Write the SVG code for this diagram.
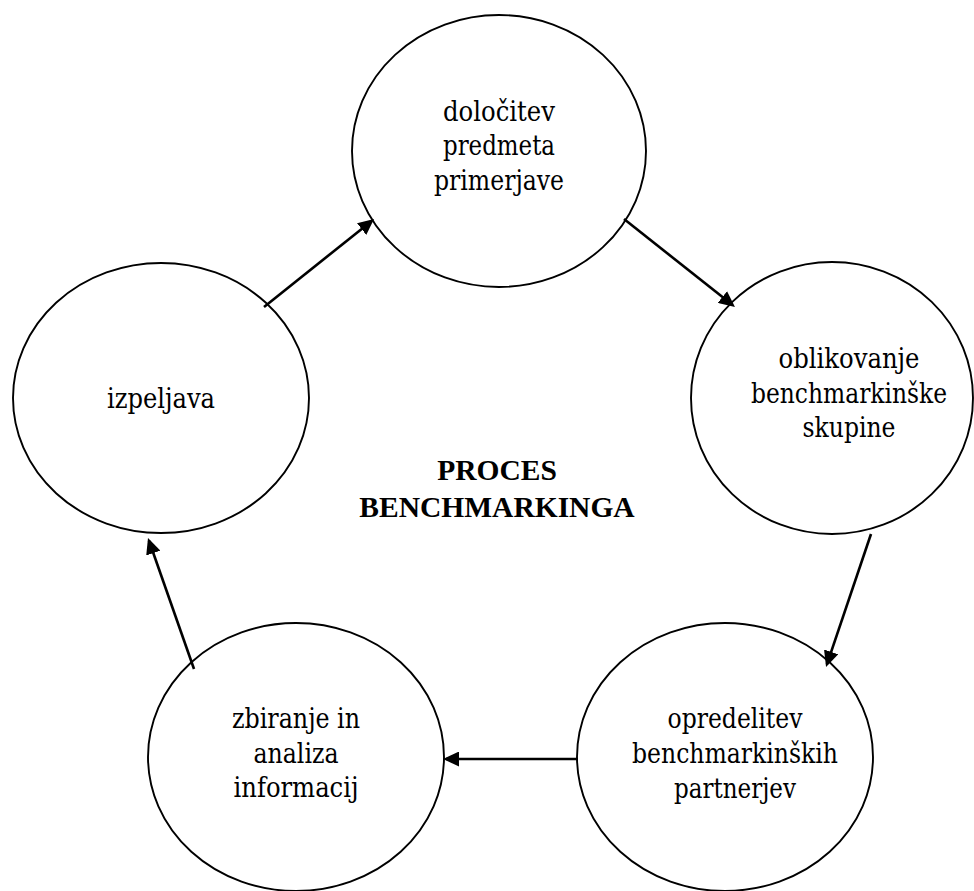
<svg xmlns="http://www.w3.org/2000/svg" width="974" height="891" viewBox="0 0 974 891">
  <style>
    .node { fill: #ffffff; stroke: #000000; stroke-width: 1.9; }
    .label { font-family: "DejaVu Serif", "Liberation Serif", serif; font-stretch: condensed; font-size: 27px; fill: #000000; text-anchor: middle; }
    .title { font-family: "Liberation Serif", "Times New Roman", serif; font-size: 29.5px; font-weight: bold; fill: #000000; text-anchor: middle; }
    .edge { stroke: #000000; stroke-width: 2.6; fill: none; marker-end: url(#arrow); }
  </style>
  <defs>
    <!-- filled triangular arrowhead shared by all connectors -->
    <marker id="arrow" markerUnits="userSpaceOnUse" markerWidth="16" markerHeight="15" refX="13" refY="7.5" orient="auto">
      <path d="M0,0 L16,7.5 L0,15 Z" fill="#000000"/>
    </marker>
  </defs>
  <rect x="0" y="0" width="974" height="891" fill="#ffffff"/>

  <g id="node-dolocitev">
    <ellipse class="node" cx="499" cy="151" rx="147" ry="136"/>
    <text class="label" x="499" y="121" textLength="112" lengthAdjust="spacingAndGlyphs">določitev</text>
    <text class="label" x="499" y="155" textLength="112" lengthAdjust="spacingAndGlyphs">predmeta</text>
    <text class="label" x="499" y="190" textLength="130" lengthAdjust="spacingAndGlyphs">primerjave</text>
  </g>

  <g id="node-oblikovanje">
    <ellipse class="node" cx="832" cy="398" rx="141" ry="136"/>
    <text class="label" x="849" y="368" textLength="141" lengthAdjust="spacingAndGlyphs">oblikovanje</text>
    <text class="label" x="849" y="403" textLength="196" lengthAdjust="spacingAndGlyphs">benchmarkinške</text>
    <text class="label" x="849" y="437" textLength="93" lengthAdjust="spacingAndGlyphs">skupine</text>
  </g>

  <g id="node-opredelitev">
    <ellipse class="node" cx="725" cy="757" rx="148" ry="134"/>
    <text class="label" x="735" y="728" textLength="135" lengthAdjust="spacingAndGlyphs">opredelitev</text>
    <text class="label" x="735" y="763" textLength="206" lengthAdjust="spacingAndGlyphs">benchmarkinških</text>
    <text class="label" x="735" y="798" textLength="122" lengthAdjust="spacingAndGlyphs">partnerjev</text>
  </g>

  <g id="node-zbiranje">
    <ellipse class="node" cx="296" cy="757" rx="148" ry="134"/>
    <text class="label" x="296" y="728" textLength="128" lengthAdjust="spacingAndGlyphs">zbiranje in</text>
    <text class="label" x="296" y="763" textLength="85" lengthAdjust="spacingAndGlyphs">analiza</text>
    <text class="label" x="296" y="797" textLength="125" lengthAdjust="spacingAndGlyphs">informacij</text>
  </g>

  <g id="node-izpeljava">
    <ellipse class="node" cx="161" cy="398" rx="148" ry="135"/>
    <text class="label" x="161" y="408" textLength="108" lengthAdjust="spacingAndGlyphs">izpeljava</text>
  </g>

  <g id="center-title">
    <text class="title" x="497" y="480">PROCES</text>
    <text class="title" x="497" y="517">BENCHMARKINGA</text>
  </g>

  <g id="connectors">
    <line class="edge" x1="264" y1="307" x2="371.7" y2="220.9"/>
    <line class="edge" x1="624" y1="219" x2="732.6" y2="305.1"/>
    <line class="edge" x1="871" y1="534" x2="827" y2="664.2"/>
    <line class="edge" x1="578" y1="759" x2="446" y2="759"/>
    <line class="edge" x1="194" y1="669" x2="149" y2="540.8"/>
  </g>
</svg>
